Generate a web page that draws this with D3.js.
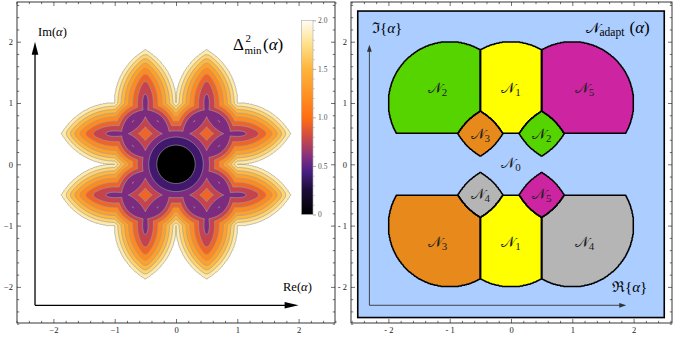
<!DOCTYPE html>
<html><head><meta charset="utf-8">
<script src="https://cdn.jsdelivr.net/npm/d3@7"></script>
<style>
body{margin:0;background:#fff;}
svg{display:block;font-family:"Liberation Serif","DejaVu Serif",serif;}
</style></head><body>
<svg id="c" width="678" height="339"></svg>
<script>
// ---------------- data ----------------
// singular fade states of the QPSK two-way relay (Re, Im) and distance weights |dB|^2
const stateRe = [1, -1, 0, 0, 1, -1, 1, -1, 0.5, -0.5, 0.5, -0.5];
const stateIm = [0, 0, 1, -1, 1, 1, -1, -1, 0.5, 0.5, -0.5, -0.5];
const stateWeight = [2, 2, 2, 2, 2, 2, 2, 2, 4, 4, 4, 4];
const originWeight = 2;      // xB-only differences
const deltaMax = 2;          // xA-only differences (QPSK d_min^2)
// network-coding maps N0..N5 and the singular states each one removes
const mapNames = ["0", "1", "2", "3", "4", "5"];
const mapRemoves = [[0, 1], [2, 3], [5, 8], [9, 7], [6, 11], [4, 10]];
const mapColors = ["#abcdff", "#ffff00", "#55d400", "#e8891c", "#b5b5b5", "#cd24a2"];
// region label anchors
const regionLabelRe = [-1.2, 0, 1.2, -0.5, 0.5, 0, -0.5, 0.5, -1.2, 0, 1.2];
const regionLabelIm = [1.24, 1.24, 1.24, 0.49, 0.49, 0.02, -0.49, -0.49, -1.26, -1.26, -1.26];
const regionLabelMap = [2, 1, 5, 3, 2, 0, 4, 5, 3, 1, 4];
// contour levels and band colours of the left plot
const contourLevels = [0, 0.2, 0.4, 0.6, 0.8, 1.0, 1.2, 1.4, 1.6, 1.8, 2.0];
const bandColors = ["#000000", "#42186f", "#7c2b7f", "#c4434f", "#ee6527", "#ff8a1e",
                    "#ffa02c", "#ffb83e", "#ffd272", "#ffeaa8", "#ffffff"];
// colour bar
const cbStops = [0, 0.25, 0.45, 0.6, 0.8, 1.0, 1.25, 1.5, 1.75, 2.0];
const cbColors = ["#000000", "#1a0c35", "#4a1f85", "#86307e", "#cf4a45", "#ff6f12",
                  "#ff9424", "#ffb43c", "#ffe088", "#fffdf5"];
const cbTicks = [0, 0.5, 1, 1.5, 2];
const cbTickLabels = ["0", "0.5", "1.0", "1.5", "2.0"];
// axes
const axisTicks = [-2, -1, 0, 1, 2];
const leftTickLabels = ["\u22122", "\u22121", "0", "1", "2"];
const rightTickLabels = ["- 2", "- 1", "0", "1", "2"];

// ---------------- layout ----------------
const svg = d3.select("#c");
const PXU = 61.3;
const LP = {x0: 17, x1: 335, y0: 2, y1: 323, cx: 176, cy: 164.3};
const RP = {x0: 351, x1: 672, y0: 2, y1: 323, cx: 511, cy: 164.3};
function mk(P) {
  return {
    X: d3.scaleLinear().domain([(P.x0 - P.cx) / PXU, (P.x1 - P.cx) / PXU]).range([P.x0, P.x1]),
    Y: d3.scaleLinear().domain([(P.cy - P.y1) / PXU, (P.cy - P.y0) / PXU]).range([P.y1, P.y0])
  };
}
const SL = mk(LP), SR = mk(RP);

// ---------------- model ----------------
const NS = stateRe.length;
const mask = mapRemoves.map(r => stateRe.map((_, i) => r.includes(i)));
const dbuf = new Float64Array(NS);
function evalAt(re, im) {           // returns [best value, best map]
  for (let s = 0; s < NS; s++) {
    const dx = re - stateRe[s], dy = im - stateIm[s];
    dbuf[s] = stateWeight[s] * (dx * dx + dy * dy);
  }
  const base = Math.min(deltaMax, originWeight * (re * re + im * im));
  let best = 0, bv = -1;
  for (let k = 0; k < mapRemoves.length; k++) {
    let m = base;
    const mk_ = mask[k];
    for (let s = 0; s < NS; s++) if (!mk_[s] && dbuf[s] < m) m = dbuf[s];
    if (m > bv + 1e-12) { bv = m; best = k; }
  }
  return [bv, best];
}
function grid(h, g0, n, which) {
  const out = new Float64Array(n * n);
  for (let j = 0; j < n; j++) for (let i = 0; i < n; i++)
    out[j * n + i] = evalAt(g0 + i * h, -g0 - j * h)[which];
  return out;
}
// fills narrow valleys the way the finite sampling of the original plot does
function valleyFill(src, n, r) {
  const tmp = new Float64Array(n * n), out = new Float64Array(n * n), w = 2 * r + 1;
  for (let j = 0; j < n; j++) for (let i = 0; i < n; i++) {
    let s = 0;
    for (let k = -r; k <= r; k++) s += src[j * n + Math.min(n - 1, Math.max(0, i + k))];
    tmp[j * n + i] = s / w;
  }
  for (let j = 0; j < n; j++) for (let i = 0; i < n; i++) {
    let s = 0;
    for (let k = -r; k <= r; k++) s += tmp[Math.min(n - 1, Math.max(0, j + k)) * n + i];
    out[j * n + i] = Math.max(src[j * n + i], s / w);
  }
  return out;
}
function proj(S, h, g0) {
  return d3.geoPath(d3.geoTransform({
    point(x, y) { this.stream.point(S.X(g0 + (x - 0.5) * h), S.Y(-g0 - (y - 0.5) * h)); }
  }));
}

// ---------------- frames & ticks ----------------
function frame(P, S, tickLabels) {
  const g = svg.append("g");
  const minor = d3.range(-26, 27, 2).map(k => k / 10).filter(v => !axisTicks.includes(v));
  const put = (axis, tr, vals, len, lab) => {
    const a = g.append("g").attr("transform", tr)
      .call(axis.tickValues(vals).tickSize(-len).tickPadding(lab ? 4 : 0)
        .tickFormat(lab ? (v => tickLabels[axisTicks.indexOf(v)]) : ""));
    a.select(".domain").remove();
    a.selectAll("line").attr("stroke", "#333").attr("stroke-width", 0.7);
    a.selectAll("text").attr("font-size", 8.5).attr("fill", "#222")
      .attr("font-family", "Liberation Serif, serif");
  };
  put(d3.axisBottom(S.X), `translate(0,${P.y1})`, axisTicks, 4, true);
  put(d3.axisBottom(S.X), `translate(0,${P.y1})`, minor, 2.2, false);
  put(d3.axisTop(S.X), `translate(0,${P.y0})`, axisTicks, 4, false);
  put(d3.axisTop(S.X), `translate(0,${P.y0})`, minor, 2.2, false);
  put(d3.axisLeft(S.Y), `translate(${P.x0},0)`, axisTicks, 4, true);
  put(d3.axisLeft(S.Y), `translate(${P.x0},0)`, minor, 2.2, false);
  put(d3.axisRight(S.Y), `translate(${P.x1},0)`, axisTicks, 4, false);
  put(d3.axisRight(S.Y), `translate(${P.x1},0)`, minor, 2.2, false);
  g.append("rect").attr("x", P.x0).attr("y", P.y0).attr("width", P.x1 - P.x0).attr("height", P.y1 - P.y0)
    .attr("fill", "none").attr("stroke", "#222").attr("stroke-width", 0.9);
}

function arrow(g, x1, y1, x2, y2, sw, len, hw, col) {
  const ang = Math.atan2(y2 - y1, x2 - x1);
  const bx = x2 - len * Math.cos(ang), by = y2 - len * Math.sin(ang);
  g.append("line").attr("x1", x1).attr("y1", y1).attr("x2", bx + Math.cos(ang)).attr("y2", by + Math.sin(ang))
    .attr("stroke", col).attr("stroke-width", sw);
  const px = -Math.sin(ang) * hw, py = Math.cos(ang) * hw;
  g.append("path").attr("d", `M${x2},${y2}L${bx + px},${by + py}L${bx - px},${by - py}Z`).attr("fill", col);
}

// ---------------- LEFT PANEL ----------------
const hL = 0.01, g0L = -2.75, nL = 551;
const valuesL = valleyFill(grid(hL, g0L, nL, 0), nL, 5);
svg.append("clipPath").attr("id", "clipL").append("rect")
  .attr("x", LP.x0).attr("y", LP.y0).attr("width", LP.x1 - LP.x0).attr("height", LP.y1 - LP.y0);
const gL = svg.append("g").attr("clip-path", "url(#clipL)");
const thresholds = contourLevels.map((v, i) => i === contourLevels.length - 1 ? v - 1e-7 : v);
const cons = d3.contours().size([nL, nL]).thresholds(thresholds)(Array.from(valuesL));
const pL = proj(SL, hL, g0L);
gL.selectAll("path.band").data(cons).join("path").attr("class", "band")
  .attr("d", pL).attr("fill", (c, i) => bandColors[i])
  .attr("stroke", (c, i) => i === 0 ? "none" : "#9c9c9c").attr("stroke-width", 0.7)
  .attr("stroke-linejoin", "round");

// colour bar
const cbX0 = 301.5, cbX1 = 313, cbY0 = 20.3, cbY1 = 214.5;
const cbScale = d3.scaleLinear().domain(cbStops).range(cbColors).interpolate(d3.interpolateRgb);
const cbY = d3.scaleLinear().domain([0, 2]).range([cbY1, cbY0]);
const grad = svg.append("defs").append("linearGradient").attr("id", "cbg")
  .attr("x1", 0).attr("y1", 1).attr("x2", 0).attr("y2", 0);
d3.range(0, 2.0001, 0.05).forEach(v => grad.append("stop").attr("offset", v / 2).attr("stop-color", cbScale(v)));
svg.append("rect").attr("x", cbX0).attr("y", cbY0).attr("width", cbX1 - cbX0).attr("height", cbY1 - cbY0)
  .attr("fill", "url(#cbg)").attr("stroke", "#aaa").attr("stroke-width", 0.6);
{
  const a = svg.append("g").attr("transform", `translate(${cbX1},0)`)
    .call(d3.axisRight(cbY).tickValues(cbTicks).tickSize(3).tickPadding(2)
      .tickFormat((v, i) => cbTickLabels[i]));
  a.select(".domain").remove();
  a.selectAll("line").attr("stroke", "#777").attr("stroke-width", 0.6);
  a.selectAll("text").attr("font-size", 7.5).attr("fill", "#555").attr("font-family", "Liberation Serif, serif");
  const b = svg.append("g").attr("transform", `translate(${cbX1},0)`)
    .call(d3.axisRight(cbY).tickValues(d3.range(1, 20).map(k => k / 10).filter(v => !cbTicks.includes(v))).tickSize(1.8).tickFormat(""));
  b.select(".domain").remove();
  b.selectAll("line").attr("stroke", "#999").attr("stroke-width", 0.5);
}

frame(LP, SL, leftTickLabels);
{
  const g = svg.append("g");
  arrow(g, SL.X(-2.3), SL.Y(-2.3), SL.X(-2.3), SL.Y(2.0), 1.3, 13, 3.3, "#000");
  arrow(g, SL.X(-2.3), SL.Y(-2.3), SL.X(2.0), SL.Y(-2.3), 1.3, 14, 3.3, "#000");
  g.append("text").attr("x", 38).attr("y", 35.5).attr("font-size", 12.5)
    .html('Im(<tspan font-style="italic">α</tspan>)');
  g.append("text").attr("x", 283).attr("y", 290.5).attr("font-size", 12.5)
    .html('Re(<tspan font-style="italic">α</tspan>)');
  g.append("text").attr("x", 233).attr("y", 50).attr("font-size", 17).text("Δ");
  g.append("text").attr("x", 245.5).attr("y", 42).attr("font-size", 11).text("2");
  g.append("text").attr("x", 244.5).attr("y", 54).attr("font-size", 11).text("min");
  g.append("text").attr("x", 263).attr("y", 50).attr("font-size", 17)
    .html('(<tspan font-style="italic">α</tspan>)');
}

// ---------------- RIGHT PANEL ----------------
frame(RP, SR, rightTickLabels);
const hR = 0.01, g0R = -2.55, nR = 511;
const labelsR = grid(hR, g0R, nR, 1);
const gR = svg.append("g");
gR.append("rect").attr("x", SR.X(-2.5)).attr("y", SR.Y(2.5))
  .attr("width", SR.X(2.5) - SR.X(-2.5)).attr("height", SR.Y(-2.5) - SR.Y(2.5))
  .attr("fill", mapColors[0]).attr("stroke", "#000").attr("stroke-width", 1.6);
const pR = proj(SR, hR, g0R);
const regionShapes = mapNames.slice(1).map((n, k) => {
  const ind = Array.from(labelsR, v => v === k + 1 ? 1 : 0);
  return d3.contours().size([nR, nR]).thresholds([0.5])(ind)[0];
});
gR.selectAll("path.rf").data(regionShapes).join("path").attr("class", "rf")
  .attr("d", pR).attr("fill", (c, i) => mapColors[i + 1]).attr("stroke", "none");
gR.selectAll("path.rs").data(regionShapes).join("path").attr("class", "rs")
  .attr("d", pR).attr("fill", "none").attr("stroke", "#000").attr("stroke-width", 1.5)
  .attr("stroke-linejoin", "round");
arrow(gR, SR.X(-2.31), SR.Y(-2.3), SR.X(-2.31), SR.Y(1.95), 0.9, 7, 2.4, "#333");
arrow(gR, SR.X(-2.31), SR.Y(-2.3), SR.X(1.88), SR.Y(-2.3), 0.9, 7, 2.4, "#333");
gR.selectAll("text.rl").data(regionLabelMap).join("text").attr("class", "rl")
  .attr("x", (m, i) => SR.X(regionLabelRe[i])).attr("y", (m, i) => SR.Y(regionLabelIm[i]) + 5)
  .attr("text-anchor", "middle").attr("font-size", 15).attr("fill", "#222")
  .html(m => `𝒩<tspan font-size="11" dy="3">${mapNames[m]}</tspan>`);
gR.append("text").attr("x", 372).attr("y", 33).attr("font-size", 15)
  .html('ℑ{<tspan font-style="italic">α</tspan>}');
gR.append("text").attr("x", 612).attr("y", 291.5).attr("font-size", 15)
  .html('ℜ{<tspan font-style="italic">α</tspan>}');
gR.append("text").attr("x", 586).attr("y", 33).attr("font-size", 15).text("𝒩");
gR.append("text").attr("x", 599.5).attr("y", 36).attr("font-size", 11.5).text("adapt");
gR.append("text").attr("x", 629.5).attr("y", 33).attr("font-size", 17)
  .html('(<tspan font-style="italic">α</tspan>)');
</script>
</body></html>
